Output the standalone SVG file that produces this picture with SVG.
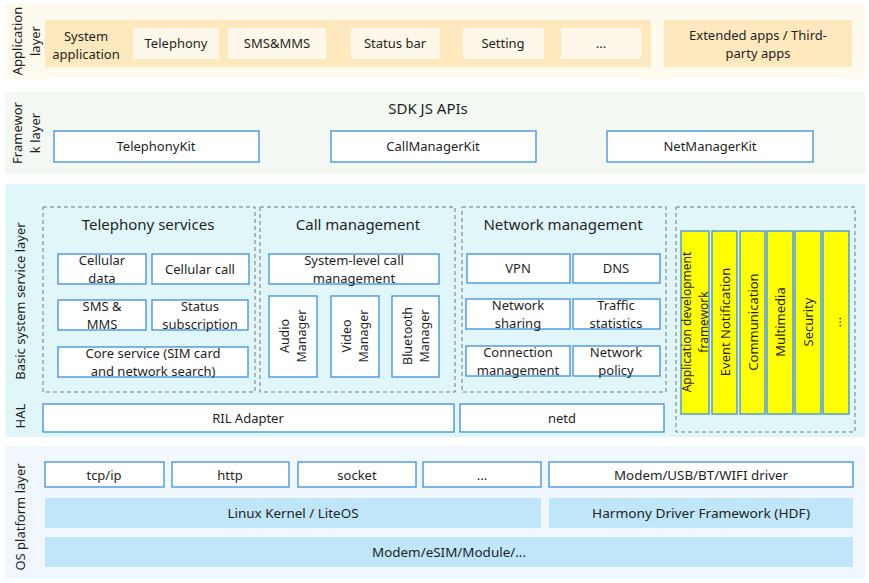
<svg xmlns="http://www.w3.org/2000/svg" width="869" height="583" viewBox="0 0 869 583">
<style>
text{font-family:"Noto Sans","Liberation Sans",sans-serif;font-size:13px;fill:#1f1f1f;text-anchor:middle;dominant-baseline:central}
.t15{font-size:15px}
.s125{font-size:12.5px}
.s12{font-size:12px}
.box{fill:#ffffff;stroke:#3b8ee3;stroke-width:1.3}
.ybox{fill:#ffff00;stroke:#3b8ee3;stroke-width:1.3}
.lbox{fill:#bfe6f9}
.abox{fill:#fef8ea}
.dash{fill:none;stroke:#777777;stroke-width:1;stroke-dasharray:4,3}
</style>
<rect width="869" height="583" fill="#ffffff"/>

<g id="application-layer">
<rect x="5" y="4" width="860" height="75" fill="#fefaee"/>
<text transform="translate(16.5,41) rotate(-90)">Application</text>
<text transform="translate(34.5,41) rotate(-90)">layer</text>
<rect x="45" y="20" width="606" height="47" fill="#fde9bd"/>
<text x="86" y="35.5">System</text>
<text x="86" y="53.5">application</text>
<g id="app-telephony"><rect class="abox" x="133" y="28" width="86" height="31"/><text x="176" y="43">Telephony</text></g>
<g id="app-sms"><rect class="abox" x="228" y="28" width="98" height="31"/><text x="277" y="43">SMS&amp;MMS</text></g>
<g id="app-statusbar"><rect class="abox" x="351" y="28" width="89" height="31"/><text x="395" y="43">Status bar</text></g>
<g id="app-setting"><rect class="abox" x="463" y="28" width="81" height="31"/><text x="503" y="43">Setting</text></g>
<g id="app-more"><rect class="abox" x="561" y="28" width="80" height="31"/><text x="601" y="43">...</text></g>
<g id="app-extended"><rect x="664" y="20" width="188" height="47" fill="#fde9bd"/><text x="758" y="34.5">Extended apps / Third-</text><text x="758" y="52.5">party apps</text></g>
</g>

<g id="framework-layer">
<rect x="5" y="92" width="860" height="82" fill="#f3f9f2"/>
<text transform="translate(17,133) rotate(-90)">Framewor</text>
<text transform="translate(35,133) rotate(-90)">k layer</text>
<text class="t15" x="428" y="108">SDK JS APIs</text>
<g id="telephonykit"><rect class="box" x="54" y="131" width="205" height="31"/><text x="156" y="146">TelephonyKit</text></g>
<g id="callmanagerkit"><rect class="box" x="331" y="131" width="205" height="31"/><text x="433" y="146">CallManagerKit</text></g>
<g id="netmanagerkit"><rect class="box" x="607" y="131" width="206" height="31"/><text x="710" y="146">NetManagerKit</text></g>
</g>

<g id="basic-service-layer">
<rect x="5" y="184" width="860" height="253" fill="#e0f6f8"/>
<text transform="translate(20,301) rotate(-90)">Basic system service layer</text>
<text transform="translate(20,416) rotate(-90)">HAL</text>

<g id="telephony-services">
<rect class="dash" x="43" y="207" width="212" height="185"/>
<text class="t15" x="148" y="224">Telephony services</text>
<g id="cellular-data"><rect class="box" x="58" y="254" width="88" height="30"/><text x="102" y="260">Cellular</text><text x="102" y="278">data</text></g>
<g id="cellular-call"><rect class="box" x="152" y="254" width="97" height="30"/><text x="200" y="269">Cellular call</text></g>
<g id="sms-mms"><rect class="box" x="58" y="300" width="88" height="30"/><text x="102" y="306">SMS &amp;</text><text x="102" y="324">MMS</text></g>
<g id="status-subscription"><rect class="box" x="152" y="300" width="96" height="30"/><text x="200" y="306">Status</text><text x="200" y="324">subscription</text></g>
<g id="core-service"><rect class="box" x="58" y="347" width="190" height="30"/><text x="153" y="353">Core service (SIM card</text><text x="153" y="371">and network search)</text></g>
</g>

<g id="call-management">
<rect class="dash" x="260" y="207" width="195" height="185"/>
<text class="t15" x="358" y="224">Call management</text>
<g id="system-call-mgmt"><rect class="box" x="269" y="254" width="170" height="30"/><text x="354" y="260">System-level call</text><text x="354" y="278">management</text></g>
<g id="audio-manager"><rect class="box" x="269" y="296" width="48" height="81"/><text class="s125" transform="translate(284.5,336) rotate(-90)">Audio</text><text class="s125" transform="translate(301.5,336) rotate(-90)">Manager</text></g>
<g id="video-manager"><rect class="box" x="331" y="296" width="48" height="81"/><text class="s125" transform="translate(346.5,336) rotate(-90)">Video</text><text class="s125" transform="translate(363.5,336) rotate(-90)">Manager</text></g>
<g id="bluetooth-manager"><rect class="box" x="392" y="296" width="47" height="81"/><text class="s125" transform="translate(407,336) rotate(-90)">Bluetooth</text><text class="s125" transform="translate(424,336) rotate(-90)">Manager</text></g>
</g>

<g id="network-management">
<rect class="dash" x="462" y="207" width="204" height="185"/>
<text class="t15" x="563" y="224">Network management</text>
<g id="vpn"><rect class="box" x="467" y="254" width="103" height="29"/><text x="518" y="268">VPN</text></g>
<g id="dns"><rect class="box" x="573" y="254" width="87" height="29"/><text x="616" y="268">DNS</text></g>
<g id="network-sharing"><rect class="box" x="466" y="299" width="104" height="30"/><text x="518" y="305">Network</text><text x="518" y="323">sharing</text></g>
<g id="traffic-statistics"><rect class="box" x="573" y="299" width="87" height="30"/><text x="616" y="305">Traffic</text><text x="616" y="323">statistics</text></g>
<g id="connection-management"><rect class="box" x="466" y="346" width="104" height="30"/><text x="518" y="352">Connection</text><text x="518" y="370">management</text></g>
<g id="network-policy"><rect class="box" x="573" y="346" width="87" height="30"/><text x="616" y="352">Network</text><text x="616" y="370">policy</text></g>
</g>

<g id="subsystems">
<rect class="dash" x="676" y="207" width="179" height="225"/>
<g id="app-dev-framework"><rect class="ybox" x="681" y="231" width="28" height="183"/><text class="s12" transform="translate(686.8,322) rotate(-90)">Application development</text><text class="s12" transform="translate(703.2,322) rotate(-90)">framework</text></g>
<g id="event-notification"><rect class="ybox" x="712" y="231" width="25" height="183"/><text transform="translate(724.5,322) rotate(-90)">Event Notification</text></g>
<g id="communication"><rect class="ybox" x="740" y="231" width="25" height="183"/><text transform="translate(752.5,322) rotate(-90)">Communication</text></g>
<g id="multimedia"><rect class="ybox" x="767" y="231" width="26" height="183"/><text transform="translate(780,322) rotate(-90)">Multimedia</text></g>
<g id="security"><rect class="ybox" x="795" y="231" width="26" height="183"/><text transform="translate(808,322) rotate(-90)">Security</text></g>
<g id="subsystem-more"><rect class="ybox" x="823" y="231" width="26" height="183"/><text transform="translate(836,322) rotate(-90)">...</text></g>
</g>

<g id="ril-adapter"><rect class="box" x="43" y="404" width="411" height="28"/><text x="248" y="418">RIL Adapter</text></g>
<g id="netd"><rect class="box" x="460" y="404" width="204" height="28"/><text x="562" y="418">netd</text></g>
</g>

<g id="os-platform-layer">
<rect x="5" y="446" width="860" height="133" fill="#f0f8fd"/>
<text transform="translate(20,517) rotate(-90)">OS platform layer</text>
<g id="tcpip"><rect class="box" x="45" y="462" width="119" height="25"/><text x="104" y="474.5">tcp/ip</text></g>
<g id="http"><rect class="box" x="172" y="462" width="117" height="25"/><text x="230" y="474.5">http</text></g>
<g id="socket"><rect class="box" x="298" y="462" width="118" height="25"/><text x="357" y="474.5">socket</text></g>
<g id="os-more"><rect class="box" x="423" y="462" width="118" height="25"/><text x="482" y="474.5">...</text></g>
<g id="drivers"><rect class="box" x="549" y="462" width="304" height="25"/><text x="701" y="474.5" textLength="174" lengthAdjust="spacingAndGlyphs">Modem/USB/BT/WIFI driver</text></g>
<g id="kernel"><rect class="lbox" x="45" y="498" width="496" height="30"/><text x="293" y="513" textLength="131" lengthAdjust="spacingAndGlyphs">Linux Kernel / LiteOS</text></g>
<g id="hdf"><rect class="lbox" x="549" y="498" width="304" height="30"/><text x="701" y="513" textLength="218" lengthAdjust="spacingAndGlyphs">Harmony Driver Framework (HDF)</text></g>
<g id="hardware"><rect class="lbox" x="45" y="537" width="808" height="30"/><text x="449" y="552" textLength="154" lengthAdjust="spacingAndGlyphs">Modem/eSIM/Module/...</text></g>
</g>
<g id="connectors"></g>
</svg>
